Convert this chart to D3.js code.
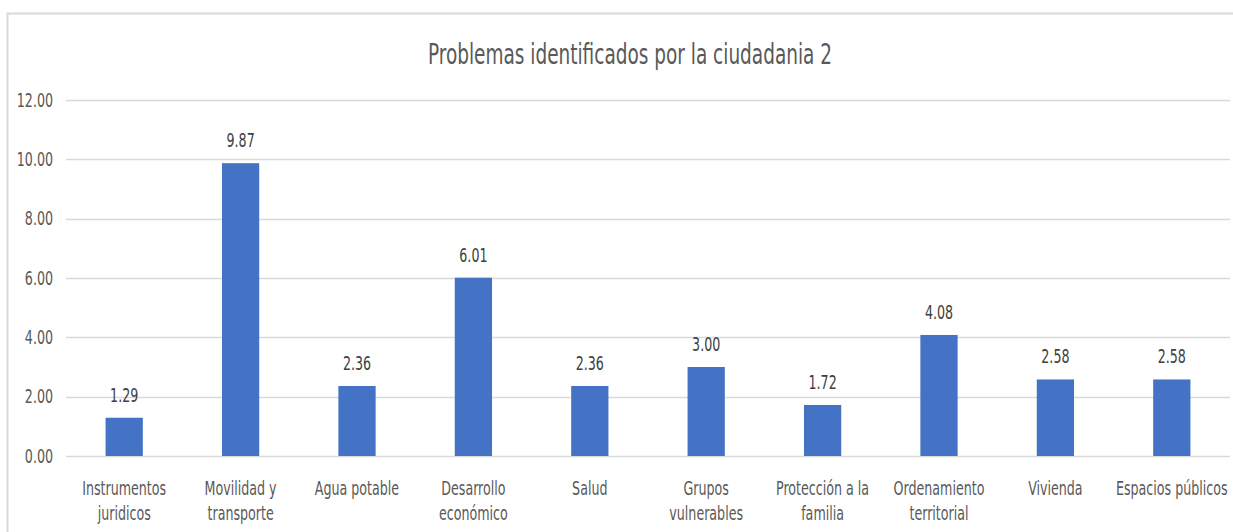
<!DOCTYPE html>
<html>
<head>
<meta charset="utf-8">
<script src="https://cdn.jsdelivr.net/npm/d3@7"></script>
<style>
  body { margin: 0; background: #fff; }
  svg text { font-family: "DejaVu Sans Condensed", "Liberation Sans Narrow", sans-serif; }
</style>
</head>
<body>
<div id="chart"></div>
<script>
// data
var categories = [
	[ 'Instrumentos', 'juridicos' ],
	[ 'Movilidad y', 'transporte' ],
	[ 'Agua potable' ],
	[ 'Desarrollo', 'económico' ],
	[ 'Salud' ],
	[ 'Grupos', 'vulnerables' ],
	[ 'Protección a la', 'familia' ],
	[ 'Ordenamiento', 'territorial' ],
	[ 'Vivienda' ],
	[ 'Espacios públicos' ]
];
var values = [ 1.29, 9.87, 2.36, 6.01, 2.36, 3.00, 1.72, 4.08, 2.58, 2.58 ];
var yTicks = [ 0, 2, 4, 6, 8, 10, 12 ];

var width = 1233, height = 532;
var plotLeft = 66, plotRight = 1230, plotTop = 100, plotBottom = 456;
var squeeze = 0.74; // the reference text is narrow

// narrow the text horizontally, keeping its anchor
function narrow( sel ) {
	sel.each( function() {
		var w = this.getComputedTextLength();
		d3.select( this )
			.attr( 'textLength', w * squeeze )
			.attr( 'lengthAdjust', 'spacingAndGlyphs' );
	} );
}

var svg = d3.select( '#chart' ).append( 'svg' )
	.attr( 'width', width )
	.attr( 'height', height );

// chart frame
svg.append( 'rect' )
	.attr( 'x', 7.5 ).attr( 'y', 13.5 )
	.attr( 'width', width ).attr( 'height', height )
	.attr( 'fill', 'none' )
	.attr( 'stroke', '#d9d9d9' )
	.attr( 'stroke-width', 2 );

svg.append( 'text' )
	.attr( 'x', 630 )
	.attr( 'y', 64 )
	.attr( 'text-anchor', 'middle' )
	.attr( 'font-size', '28px' )
	.attr( 'textLength', 404 )
	.attr( 'lengthAdjust', 'spacingAndGlyphs' )
	.attr( 'fill', '#595959' )
	.text( 'Problemas identificados por la ciudadania 2' );

var x = d3.scaleBand()
	.domain( d3.range( values.length ) )
	.range( [ plotLeft, plotRight ] )
	.paddingInner( 0.68 )
	.paddingOuter( 0.34 );

var y = d3.scaleLinear()
	.domain( [ 0, 12 ] )
	.range( [ plotBottom, plotTop ] );

// grid lines
svg.append( 'g' )
	.selectAll( 'line' )
	.data( yTicks )
	.enter()
	.append( 'line' )
	.attr( 'x1', plotLeft )
	.attr( 'x2', plotRight )
	.attr( 'y1', function( d ) { return Math.round( y( d ) ) + 0.5; } )
	.attr( 'y2', function( d ) { return Math.round( y( d ) ) + 0.5; } )
	.attr( 'stroke', '#d9d9d9' )
	.attr( 'stroke-width', 1.5 );

var yAxis = d3.axisLeft( y )
	.tickValues( yTicks )
	.tickSize( 0 )
	.tickPadding( 13 )
	.tickFormat( d3.format( '.2f' ) );

var gy = svg.append( 'g' )
	.attr( 'transform', 'translate(' + plotLeft + ',0)' )
	.call( yAxis );
gy.select( '.domain' ).remove();
gy.attr( 'font-family', null ).attr( 'font-size', null );
gy.selectAll( 'text' )
	.attr( 'font-size', '19px' )
	.attr( 'fill', '#595959' )
	.call( narrow );

// bars
svg.selectAll( '.bars' )
	.data( values )
	.enter()
	.append( 'rect' )
	.attr( 'class', 'bars' )
	.attr( 'x', function( d, i ) { return x( i ); } )
	.attr( 'y', function( d ) { return y( d ); } )
	.attr( 'width', x.bandwidth() )
	.attr( 'height', function( d ) { return plotBottom - y( d ); } )
	.attr( 'fill', '#4472c4' );

// value labels
svg.selectAll( '.vlabel' )
	.data( values )
	.enter()
	.append( 'text' )
	.attr( 'class', 'vlabel' )
	.attr( 'x', function( d, i ) { return x( i ) + x.bandwidth() / 2; } )
	.attr( 'y', function( d ) { return y( d ) - 16; } )
	.attr( 'text-anchor', 'middle' )
	.attr( 'font-size', '19px' )
	.attr( 'fill', '#404040' )
	.text( function( d ) { return d.toFixed( 2 ); } )
	.call( narrow );

// category labels
var cat = svg.selectAll( '.clabel' )
	.data( categories )
	.enter()
	.append( 'text' )
	.attr( 'class', 'clabel' )
	.attr( 'text-anchor', 'middle' )
	.attr( 'font-size', '19px' )
	.attr( 'fill', '#595959' );

cat.selectAll( 'tspan' )
	.data( function( d, i ) { return d.map( function( s ) { return { s: s, i: i }; } ); } )
	.enter()
	.append( 'tspan' )
	.attr( 'x', function( d ) { return x( d.i ) + x.bandwidth() / 2; } )
	.attr( 'y', function( d, j ) { return 495 + j * 25; } )
	.text( function( d ) { return d.s; } )
	.call( narrow );
</script>
</body>
</html>
